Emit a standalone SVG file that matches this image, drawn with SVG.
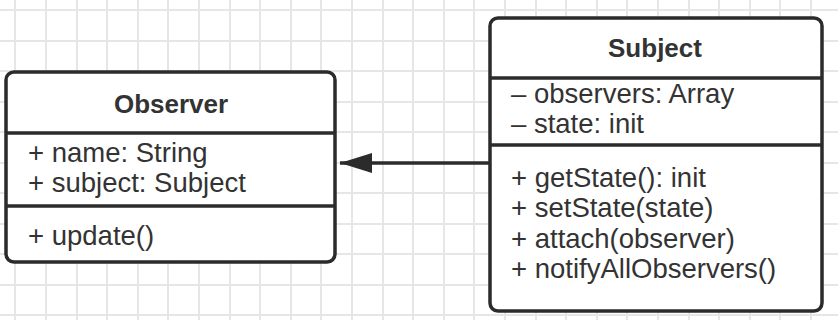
<svg xmlns="http://www.w3.org/2000/svg" width="838" height="320" viewBox="0 0 838 320">
<style>
.grid{stroke:#e6e6e6;stroke-width:2;fill:none}
.box{fill:#ffffff;stroke:#2b2b2b;stroke-width:3.5}
.div{stroke:#2b2b2b;stroke-width:3.5}
.t{font-family:"Liberation Sans",Arial,sans-serif;font-size:27.5px;fill:#333333}
.title{font-weight:bold;text-anchor:middle;font-size:26px}
.edge{stroke:#2b2b2b;stroke-width:3.5;fill:none}
</style>
<defs>
<marker id="arrow" markerUnits="userSpaceOnUse" markerWidth="34" markerHeight="24" refX="32" refY="11" orient="auto">
<path d="M0,1 L32,11 L0,21 Z" fill="#2b2b2b"/>
</marker>
</defs>
<rect width="838" height="320" fill="#ffffff"/>
<path class="grid" d="M15,0V320M46,0V320M77,0V320M107,0V320M138,0V320M168,0V320M199,0V320M230,0V320M260,0V320M291,0V320M321,0V320M352,0V320M383,0V320M413,0V320M444,0V320M474,0V320M505,0V320M536,0V320M566,0V320M597,0V320M627,0V320M658,0V320M689,0V320M719,0V320M750,0V320M780,0V320M811,0V320M0,10H838M0,41H838M0,71H838M0,102H838M0,132H838M0,163H838M0,193H838M0,224H838M0,254H838M0,285H838M0,315H838"/>
<g id="connectors">
<line class="edge" x1="490" y1="163" x2="340" y2="163" marker-end="url(#arrow)"/>
</g>
<g id="observer">
<rect class="box" x="6" y="72" width="329" height="190" rx="8"/>
<line class="div" x1="6" y1="133" x2="335" y2="133"/>
<line class="div" x1="6" y1="206" x2="335" y2="206"/>
<text class="t title" x="171" y="113">Observer</text>
<text class="t" x="28" y="162">+ name: String</text>
<text class="t" x="28" y="192">+ subject: Subject</text>
<text class="t" x="28" y="245">+ update()</text>
</g>
<g id="subject">
<rect class="box" x="490" y="18" width="332" height="293" rx="8"/>
<line class="div" x1="490" y1="78" x2="822" y2="78"/>
<line class="div" x1="490" y1="145" x2="822" y2="145"/>
<text class="t title" x="655" y="57">Subject</text>
<text class="t" x="511" y="103">– observers: Array</text>
<text class="t" x="511" y="133">– state: init</text>
<text class="t" x="511" y="187">+ getState(): init</text>
<text class="t" x="511" y="217">+ setState(state)</text>
<text class="t" x="511" y="248">+ attach(observer)</text>
<text class="t" x="511" y="278">+ notifyAllObservers()</text>
</g>
</svg>
